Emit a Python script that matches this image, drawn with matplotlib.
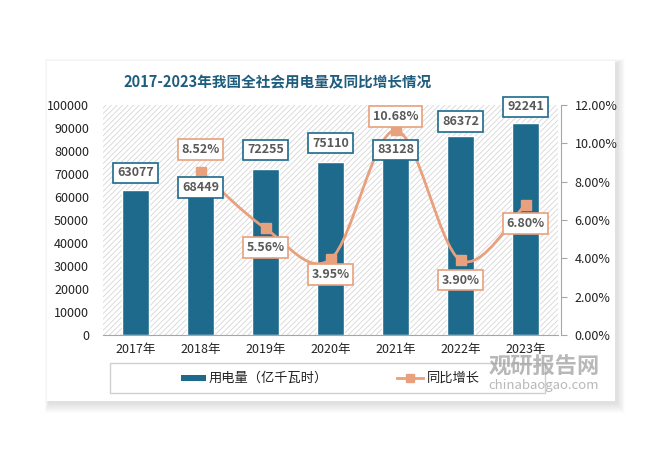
import numpy as np
import matplotlib
matplotlib.use("Agg")
import matplotlib.pyplot as plt
from matplotlib.patches import Rectangle, PathPatch
from matplotlib.path import Path
from matplotlib.lines import Line2D
from matplotlib.ticker import FuncFormatter

plt.rcParams['font.family'] = ['Noto Sans CJK SC', 'DejaVu Sans']
plt.rcParams['hatch.linewidth'] = 0.6

# data
years = ['2017年', '2018年', '2019年', '2020年', '2021年', '2022年', '2023年']
usage = [63077, 68449, 72255, 75110, 83128, 86372, 92241]
growth = [None, 8.52, 5.56, 3.95, 10.68, 3.90, 6.80]

# label offsets in pixels (style only)
usage_off = [17, -10, 19, 19, -6, 15, 16]
growth_off = [22, -19, -15, 14, -20, -19]

bar_color = '#1D6A8C'
line_color = '#E8A07D'
text_grey = '#595959'

W, H = 670, 454
fig = plt.figure(figsize=(6.7, 4.54), dpi=100)
fig.patch.set_facecolor('white')

# card with soft shadow
cx0, cy0, cx1, cy1 = 47, 61, 615, 401
for i in range(10, 0, -1):
    fig.patches.append(Rectangle(((cx0 - i * 0.4 + 2) / W, 1 - (cy1 + i + 2) / H),
                                 (cx1 - cx0 + i * 1.2) / W, (cy1 - cy0 + i * 1.4) / H,
                                 transform=fig.transFigure, facecolor='black',
                                 alpha=0.012, edgecolor='none', zorder=0))
fig.patches.append(Rectangle((cx0 / W, 1 - cy1 / H), (cx1 - cx0) / W, (cy1 - cy0) / H,
                             transform=fig.transFigure, facecolor='white',
                             edgecolor='none', zorder=0.5))

ax = fig.add_axes([103 / W, 1 - 335 / H, (558 - 103) / W, (335 - 105) / H])
ax.set_zorder(2)
ax.patch.set_alpha(0)
ax.add_patch(Rectangle((0, 0), 1, 1, transform=ax.transAxes, facecolor='white',
                       edgecolor='#d6d6d6', hatch='//////', linewidth=0, zorder=0))

x = np.arange(len(years))
bars = ax.bar(x, usage, width=0.42, color=bar_color, edgecolor='white',
              linewidth=1.0, zorder=2)
ax.set_xlim(-0.5, len(years) - 0.5)
ax.set_ylim(0, 100000)
ax.set_yticks(np.arange(0, 100001, 10000))
ax.set_xticks(x)
ax.set_xticklabels(years)
ax.tick_params(axis='y', length=0, pad=10, labelsize=9, labelcolor='#222222')
ax.tick_params(axis='x', length=0, pad=6, labelsize=9, labelcolor='#222222')
for s in ['left', 'top', 'right']:
    ax.spines[s].set_visible(False)
ax.spines['bottom'].set_color('#a6a6a6')

ax2 = ax.twinx()
ax2.set_ylim(0, 12)
ax2.set_yticks(np.arange(0, 12.01, 2))
ax2.yaxis.set_major_formatter(FuncFormatter(lambda v, p: '%.2f%%' % v))
ax2.tick_params(axis='y', length=4, color='#a6a6a6', pad=6, labelsize=9, labelcolor='#222222')
for s in ['left', 'top', 'bottom']:
    ax2.spines[s].set_visible(False)
ax2.spines['right'].set_color('#a6a6a6')
ax2.spines['right'].set_position(('axes', 1.006))

# smooth growth line (Catmull-Rom style bezier through the data points)
gx = [i for i, g in enumerate(growth) if g is not None]
gy = [g for g in growth if g is not None]
pts = np.column_stack([gx, gy]).astype(float)
verts = [tuple(pts[0])]
codes = [Path.MOVETO]
n = len(pts)
for i in range(n - 1):
    p0 = pts[max(i - 1, 0)]
    p1 = pts[i]
    p2 = pts[i + 1]
    p3 = pts[min(i + 2, n - 1)]
    c1 = p1 + (p2 - p0) / 6
    c2 = p2 - (p3 - p1) / 6
    verts += [tuple(c1), tuple(c2), tuple(p2)]
    codes += [Path.CURVE4] * 3
ax2.add_patch(PathPatch(Path(verts, codes), facecolor='none', edgecolor=line_color,
                        linewidth=2, zorder=3))
ax2.plot(gx, gy, linestyle='none', marker='s', markersize=6.5, color=line_color, zorder=4)

for xi, v, off in zip(x, usage, usage_off):
    ax2.annotate(str(v), xy=(xi, v / 100000 * 12), xytext=(0, off), textcoords='offset pixels',
                 ha='center', va='center', fontsize=9, fontweight='bold', color=text_grey,
                 bbox=dict(boxstyle='square,pad=0.3', facecolor='white', edgecolor=bar_color,
                           linewidth=1.2), zorder=6)

for xi, v, off in zip(gx, gy, growth_off):
    ax2.annotate('%.2f%%' % v, xy=(xi, v), xytext=(0, off), textcoords='offset pixels',
                 ha='center', va='center', fontsize=9, fontweight='bold', color=text_grey,
                 bbox=dict(boxstyle='square,pad=0.3', facecolor='white', edgecolor=line_color,
                           linewidth=1.2), zorder=6)

# title
fig.text(278 / W, 1 - 82 / H, '2017-2023年我国全社会用电量及同比增长情况', ha='center',
         va='center', fontsize=10.5, fontweight='bold', color='#1F5D7E', zorder=5)

# legend box
fig.patches.append(Rectangle((110 / W, 1 - 393 / H), (545 - 110) / W, 30 / H,
                             transform=fig.transFigure, facecolor='none',
                             edgecolor='#d0d0d0', linewidth=1, zorder=5))
ly = 1 - 378 / H
fig.patches.append(Rectangle((181 / W, ly - 3 / H), 25 / W, 6 / H, transform=fig.transFigure,
                             facecolor=bar_color, edgecolor='none', zorder=6))
fig.text(209 / W, ly, '用电量（亿千瓦时）', ha='left', va='center', fontsize=9.5,
         color='#222222', zorder=6)
fig.lines.append(Line2D([397 / W, 423 / W], [ly, ly], transform=fig.transFigure,
                        color=line_color, linewidth=2, zorder=6))
fig.lines.append(Line2D([410 / W], [ly], transform=fig.transFigure, color=line_color,
                        marker='s', markersize=6, linestyle='none', zorder=6))
fig.text(427 / W, ly, '同比增长', ha='left', va='center', fontsize=9.5,
         color='#222222', zorder=6)

# watermark
fig.text(544 / W, 1 - 367 / H, '观研报告网', ha='center', va='center', fontsize=16,
         fontweight='bold', color='#9a9a9a', alpha=0.7, zorder=7)
fig.text(544 / W, 1 - 385 / H, 'chinabaogao.com', ha='center', va='center', fontsize=9.5,
         color='#9a9a9a', alpha=0.7, zorder=7)

fig.savefig('out.png', dpi=100)
